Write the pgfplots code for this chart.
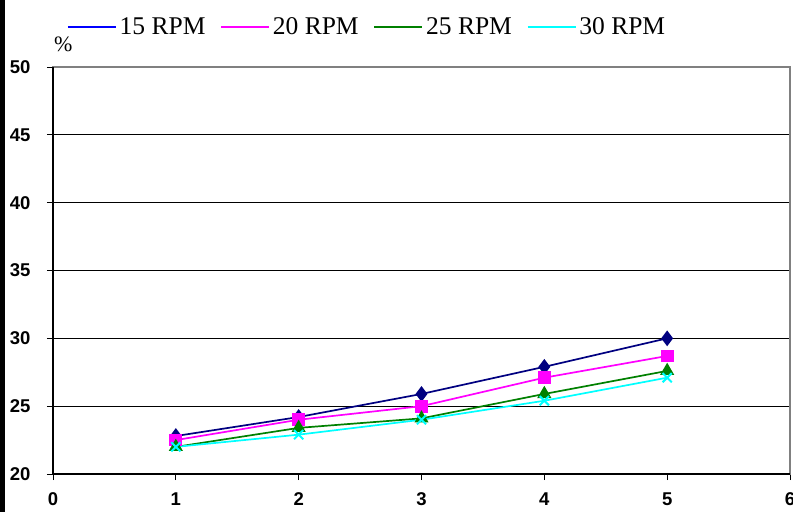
\documentclass[border=0pt]{standalone}
\usepackage{pgfplots}
\pgfplotsset{compat=1.18}
\usepackage{fontspec}
\setmainfont{Liberation Serif}
\setsansfont{Liberation Sans}
\definecolor{navyc}{HTML}{000080}
\definecolor{magc}{HTML}{FF00FF}
\definecolor{grnc}{HTML}{008000}
\definecolor{cyac}{HTML}{00FFFF}
\definecolor{frameg}{HTML}{808080}
\begin{document}
\begin{tikzpicture}
\begin{axis}[
  scale only axis, width=737pt, height=407pt,
  xmin=0, xmax=6, ymin=20, ymax=50,
  xtick={0,1,2,3,4,5,6}, ytick={20,25,30,35,40,45,50},
  tick pos=left, tick align=outside,
  major tick length=6pt,
  every tick/.style={black, line width=0.8pt},
  ymajorgrids, major grid style={black, line width=0.7pt},
  axis line style={draw=frameg, line width=1.4pt},
  /pgf/number format/assume math mode=true,
  tick label style={font=\sffamily\bfseries\fontsize{18.5}{22}\selectfont},
  xticklabel style={yshift=-9pt},
  yticklabel style={xshift=-13pt},
  clip=false,
  legend columns=4,
  legend style={at={(axis description cs:0,1)}, anchor=west, xshift=14pt, yshift=40pt,
    draw=none, fill=none, inner sep=0pt,
    font=\fontsize{25.5}{29}\selectfont,
    nodes={inner ysep=0pt, inner xsep=3pt},
    /tikz/every even column/.append style={column sep=12pt}},
  legend image code/.code={\draw[#1] (0pt,0pt) -- (48pt,0pt);},
]
\addplot[navyc, line width=1.7pt, mark=diamond*, mark size=6.5pt, mark options={fill=navyc, draw=navyc}, forget plot]
  coordinates {(1,22.8)(2,24.2)(3,25.9)(4,27.9)(5,30.0)};
\addplot[magc, line width=1.7pt, mark=square*, mark size=5.5pt, mark options={fill=magc, draw=magc}, forget plot]
  coordinates {(1,22.5)(2,24.0)(3,25.0)(4,27.1)(5,28.7)};
\addplot[grnc, line width=1.7pt, mark=triangle*, mark size=6.5pt, mark options={fill=grnc, draw=grnc}, forget plot]
  coordinates {(1,22.0)(2,23.4)(3,24.1)(4,25.9)(5,27.6)};
\addplot[cyac, line width=1.7pt, mark=x, mark size=6.5pt, mark options={draw=cyac, line width=2pt}, forget plot]
  coordinates {(1,22.0)(2,22.9)(3,24.0)(4,25.4)(5,27.1)};
\addlegendimage{blue, line width=1.5pt}
\addlegendentry{15 RPM}
\addlegendimage{magc, line width=1.5pt}
\addlegendentry{20 RPM}
\addlegendimage{grnc, line width=1.5pt}
\addlegendentry{25 RPM}
\addlegendimage{cyac, line width=1.5pt}
\addlegendentry{30 RPM}
\draw[black, line width=1.4pt] (rel axis cs:0,1) -- (rel axis cs:0,0) -- (rel axis cs:1,0);
\node[anchor=south west, inner sep=0pt, font=\fontsize{22}{26}\selectfont] at ([xshift=1pt, yshift=15pt]rel axis cs:0,1) {\%};
\coordinate (O) at (rel axis cs:0,0);
\end{axis}
\pgfresetboundingbox
\path[use as bounding box] (O) ++(-53pt,-38pt) rectangle ++(793pt,512pt);
\fill[black] (O) ++(-53pt,-38pt) rectangle ++(5pt,512pt);
\end{tikzpicture}
\end{document}
